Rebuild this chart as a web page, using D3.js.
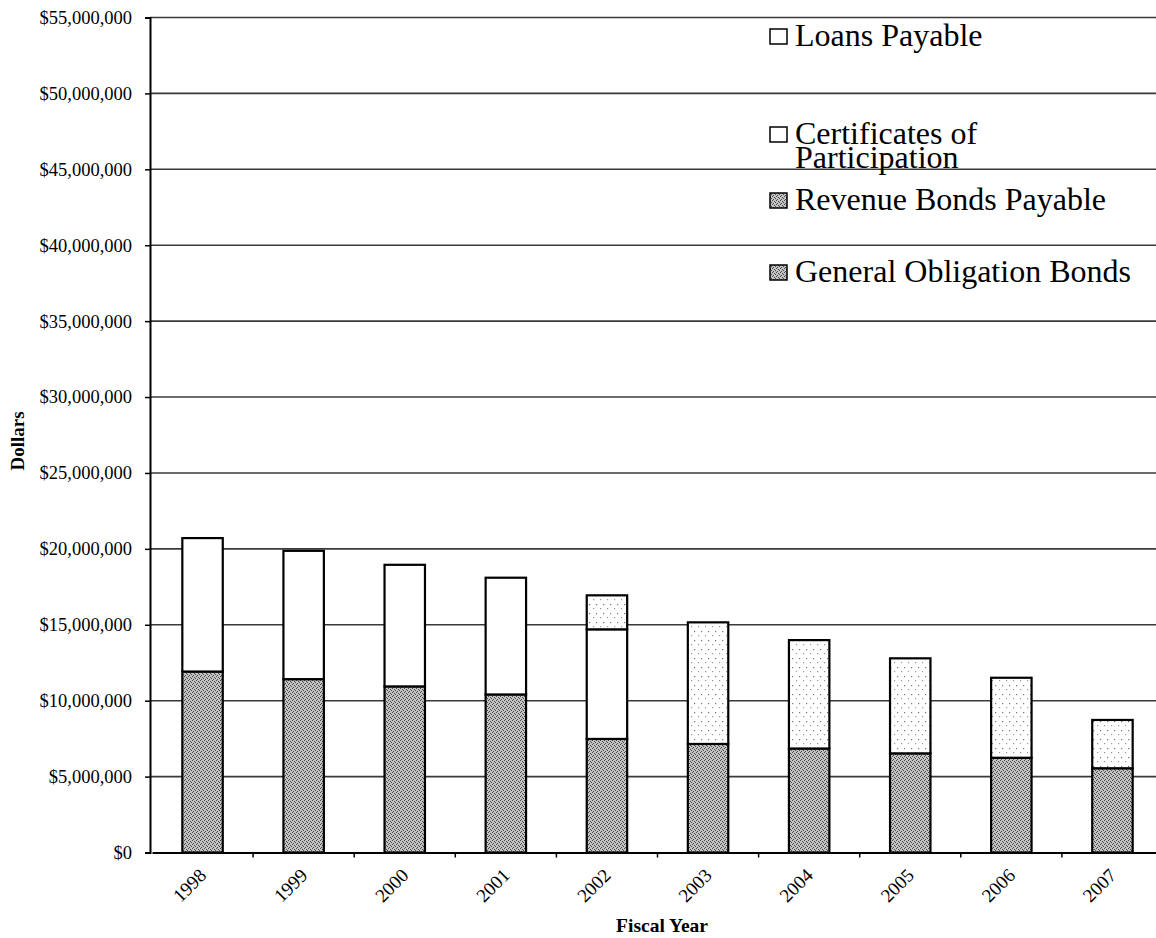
<!DOCTYPE html>
<html>
<head>
<meta charset="utf-8">
<script src="https://cdn.jsdelivr.net/npm/d3@7"></script>
<style>
  html, body { margin: 0; padding: 0; background: #fff; }
  svg { display: block; }
  .tick text { font-family: "Liberation Serif", "Times New Roman", serif; fill: #000; }
</style>
</head>
<body>
<div id="chart"></div>
<script>
// Fiscal years on the x axis
const years = ['1998', '1999', '2000', '2001', '2002', '2003', '2004', '2005', '2006', '2007'];

// Outstanding debt by type, dollars
const generalObligation = [11920000, 11420000, 10940000, 10410000, 7480000, 7150000, 6850000, 6530000, 6240000, 5550000];
const certificates      = [8790000, 8450000, 8010000, 7690000, 7220000, 0, 0, 0, 0, 0];
const revenueBonds      = [0, 0, 0, 0, 2240000, 8010000, 7140000, 6260000, 5270000, 3180000];
const loansPayable      = [0, 0, 0, 0, 0, 0, 0, 0, 0, 0];

// Legend entries, top to bottom
const legendLabels = [
  ['Loans Payable'],
  ['Certificates of', 'Participation'],
  ['Revenue Bonds Payable'],
  ['General Obligation Bonds']
];

const yTickValues = [0, 5000000, 10000000, 15000000, 20000000, 25000000, 30000000,
                     35000000, 40000000, 45000000, 50000000, 55000000];

const width = 1156, height = 938;
const serif = '"Liberation Serif", "Times New Roman", serif';

const svg = d3.select('#chart').append('svg')
  .attr('width', width)
  .attr('height', height);

// fill patterns: grey stipple and sparse dots
const defs = svg.append('defs');
const stipple = defs.append('pattern')
  .attr('id', 'stipple')
  .attr('width', 4).attr('height', 4)
  .attr('patternUnits', 'userSpaceOnUse');
stipple.append('rect').attr('width', 4).attr('height', 4).attr('fill', '#c2c2c2');
[[0, 0], [2, 1], [1, 3], [3, 2]].forEach(([px, py]) => {
  stipple.append('rect').attr('x', px).attr('y', py).attr('width', 1).attr('height', 1).attr('fill', '#4a4a4a');
});

const sparse = defs.append('pattern')
  .attr('id', 'sparse')
  .attr('width', 7).attr('height', 9)
  .attr('patternUnits', 'userSpaceOnUse');
sparse.append('rect').attr('width', 7).attr('height', 9).attr('fill', '#fff');
sparse.append('rect').attr('x', 1).attr('y', 1).attr('width', 1.2).attr('height', 1.2).attr('fill', '#777');
sparse.append('rect').attr('x', 5).attr('y', 5).attr('width', 1.2).attr('height', 1.2).attr('fill', '#999');

const x = d3.scaleBand()
  .domain(years)
  .range([152, 1163])
  .paddingInner(0.6)
  .paddingOuter(0.3);

const y = d3.scaleLinear()
  .domain([0, 55000000])
  .range([852.5, 17.5]);

// gridlines
svg.append('g')
  .selectAll('line')
  .data(yTickValues.filter(d => d > 0))
  .join('line')
  .attr('x1', 150).attr('x2', width)
  .attr('y1', d => y(d)).attr('y2', d => y(d))
  .attr('stroke', '#3a3a3a')
  .attr('stroke-width', 1.6);

// stacked bars
const rows = years.map((yr, i) => ({
  year: yr,
  go: generalObligation[i],
  cop: certificates[i],
  rev: revenueBonds[i],
  loans: loansPayable[i]
}));
const keys = ['go', 'cop', 'rev', 'loans'];
const fills = { go: 'url(#stipple)', cop: '#fff', rev: 'url(#sparse)', loans: '#fff' };
const stacked = d3.stack().keys(keys)(rows);

svg.append('g')
  .selectAll('g')
  .data(stacked)
  .join('g')
  .attr('fill', d => fills[d.key])
  .selectAll('rect')
  .data(d => d.filter(s => s[1] - s[0] > 0))
  .join('rect')
  .attr('x', d => x(d.data.year))
  .attr('width', x.bandwidth())
  .attr('y', d => y(d[1]))
  .attr('height', d => y(d[0]) - y(d[1]))
  .attr('stroke', '#000')
  .attr('stroke-width', 2.2);

// y axis
const yAxis = svg.append('g')
  .attr('transform', 'translate(150,0)')
  .call(d3.axisLeft(y)
    .tickValues(yTickValues)
    .tickSize(5)
    .tickPadding(13)
    .tickFormat(d => '$' + d3.format(',')(d)));
yAxis.select('.domain').attr('stroke', '#000').attr('stroke-width', 2);
yAxis.selectAll('.tick line').attr('stroke', '#000').attr('stroke-width', 1.5);
yAxis.selectAll('.tick text').attr('font-size', 18.5).attr('font-family', serif);

// x axis: ticks sit on the band boundaries
const xAxis = svg.append('g')
  .attr('transform', `translate(0,${y(0)})`)
  .call(d3.axisBottom(x).tickSize(0).tickFormat(''));
xAxis.select('.domain').attr('stroke', '#000').attr('stroke-width', 2);

xAxis.selectAll('.edge')
  .data(years.slice(1))
  .join('line')
  .attr('class', 'edge')
  .attr('x1', d => x(d) - x.step() * x.paddingInner() / 2)
  .attr('x2', d => x(d) - x.step() * x.paddingInner() / 2)
  .attr('y1', 0).attr('y2', 5)
  .attr('stroke', '#000').attr('stroke-width', 1.5);

xAxis.selectAll('.year')
  .data(years)
  .join('text')
  .attr('class', 'year')
  .attr('transform', d => `translate(${x(d) + x.bandwidth() / 2 + 5},24) rotate(-45)`)
  .attr('text-anchor', 'end')
  .attr('font-family', serif)
  .attr('font-size', 19)
  .attr('fill', '#000')
  .text(d => d);

// axis titles
svg.append('text')
  .attr('x', 662).attr('y', 932)
  .attr('text-anchor', 'middle')
  .attr('font-family', serif)
  .attr('font-weight', 'bold')
  .attr('font-size', 19.5)
  .text('Fiscal Year');

svg.append('text')
  .attr('transform', 'translate(24,441) rotate(-90)')
  .attr('text-anchor', 'middle')
  .attr('font-family', serif)
  .attr('font-weight', 'bold')
  .attr('font-size', 19)
  .text('Dollars');

// legend
const legendY = [46, 144, 210, 282];
const legendFill = ['#fff', '#fff', 'url(#stipple)', 'url(#stipple)'];
const legend = svg.append('g');
legendLabels.forEach((lines, i) => {
  legend.append('rect')
    .attr('x', 770).attr('y', legendY[i] - 17)
    .attr('width', 17).attr('height', 15)
    .attr('fill', legendFill[i])
    .attr('stroke', '#000').attr('stroke-width', 1.5);
  legend.append('text')
    .attr('x', 795).attr('y', legendY[i])
    .attr('font-family', serif)
    .attr('font-size', 32)
    .attr('fill', '#000')
    .selectAll('tspan')
    .data(lines)
    .join('tspan')
    .attr('x', 795)
    .attr('dy', (d, j) => j === 0 ? 0 : 24)
    .text(d => d);
});
</script>
</body>
</html>
